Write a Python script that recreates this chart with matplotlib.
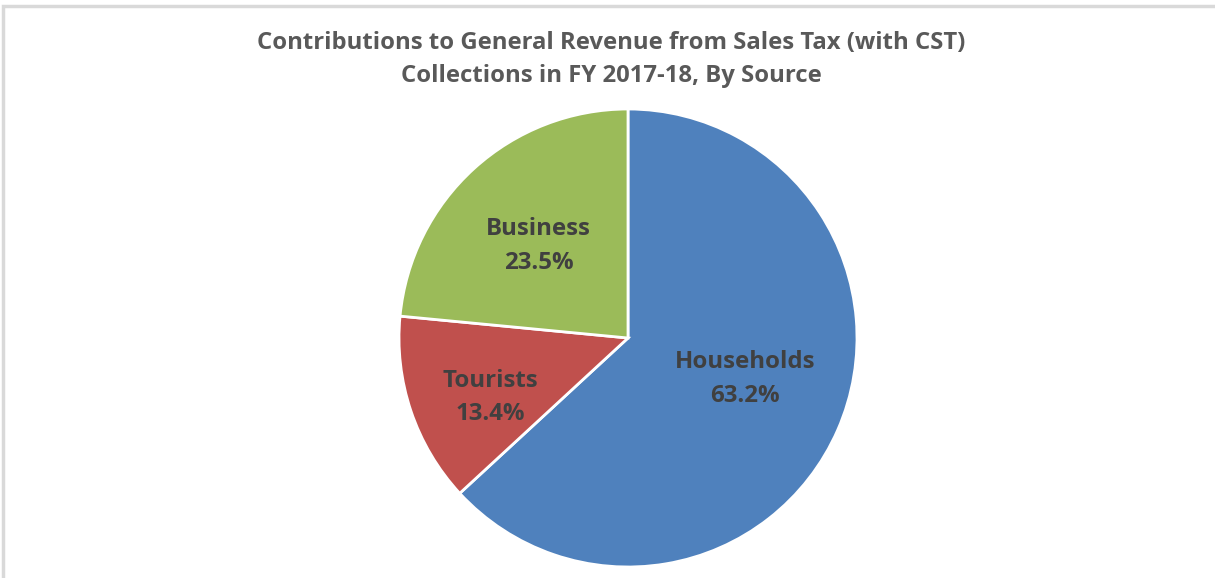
import numpy as np
import matplotlib.pyplot as plt
from matplotlib.patches import Rectangle

# Sales tax contributions by source, FY 2017-18
sources = ['Households', 'Tourists', 'Business']
shares = [63.2, 13.4, 23.5]
colors = ['#4F81BD', '#C0504D', '#9BBB59']
# label centres, as fractions of the radius
label_xy = [(0.51, -0.18), (-0.60, -0.26), (-0.39, 0.40)]

title = 'Contributions to General Revenue from Sales Tax (with CST)\nCollections in FY 2017-18, By Source'

W, H = 1215, 578
fig = plt.figure(figsize=(W / 100, H / 100), dpi=100)
fig.patch.set_facecolor('white')

# light grey frame round the chart area
fig.patches.append(Rectangle((3 / W, -0.05), 1.2, 1.05 - 6 / H, transform=fig.transFigure,
                             fill=False, edgecolor='#D9D9D9', linewidth=2.5))

cx, cy, r = 628, 338, 229
ax = fig.add_axes([(cx - r) / W, (H - cy - r) / H, 2 * r / W, 2 * r / H])
wedges, _ = ax.pie(shares, colors=colors, startangle=90, counterclock=False,
                   wedgeprops=dict(edgecolor='white', linewidth=2))
ax.set_xlim(-1, 1)
ax.set_ylim(-1, 1)
ax.set_aspect('equal')
ax.axis('off')

for name, val, (x, y) in zip(sources, shares, label_xy):
    ax.text(x, y, f'{name}\n{val:.1f}%', ha='center', va='center', fontsize=17.3,
            fontweight='bold', color='#404040', family='Open Sans', linespacing=1.55)

fig.text(611 / W, 1 - 59 / H, title, ha='center', va='center', fontsize=17.2,
         fontweight='bold', color='#595959', family='Open Sans', linespacing=1.5)

fig.savefig('out.png', dpi=100)
